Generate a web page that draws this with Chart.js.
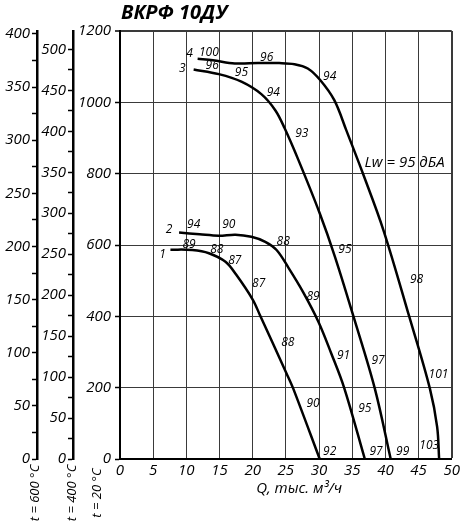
<!DOCTYPE html>
<html>
<head>
<meta charset="utf-8">
<script src="https://cdn.jsdelivr.net/npm/chart.js@4.4.1/dist/chart.umd.min.js"></script>
<style>
html, body { margin: 0; padding: 0; background: #fff; }
canvas { display: block; }
</style>
</head>
<body>
<canvas id="mycanvas" width="463" height="527"></canvas>
<script>
// Q, thousand m3/h  ->  P, Pa (t = 20 °C)
var curve1Q = [7.6, 10.9, 13.4, 15.9, 17.5, 20.0, 21.1, 25.1, 26.1, 30.1];
var curve1P = [587, 586, 577, 553, 517, 447, 403, 240, 198, 0];
var curve2Q = [8.9, 12.0, 14.9, 17.4, 19.8, 21.9, 23.6, 25.4, 27.6, 29.9, 31.8, 33.8, 36.9];
var curve2P = [635, 630, 626, 629, 623, 609, 586, 536, 468, 385, 298, 199, 0];
var curve3Q = [11.1, 14.9, 18.3, 21.3, 23.4, 24.8, 26.9, 30.1, 32.4, 35.2, 38.4, 40.8];
var curve3P = [1092, 1079, 1058, 1023, 978, 928, 838, 689, 567, 399, 198, 0];
var curve4Q = [11.7, 14.0, 17.3, 20.8, 24.0, 26.3, 28.3, 30.2, 32.3, 34.1, 36.6, 39.7, 43.6, 46.7, 47.8, 48.1];
var curve4P = [1122, 1118, 1109, 1110, 1110, 1107, 1095, 1062, 1006, 922, 801, 642, 399, 198, 90, 0];

// noise level marks along the curves and curve numbers
var markQ = [10.5, 13.4, 22.1, 31.6, 44.7, 48.0, 46.6,
             9.4, 13.9, 18.3, 23.1, 27.4, 33.9, 38.9, 42.6,
             7.4, 11.1, 16.4, 24.6, 29.1, 33.7, 36.9, 38.6,
             6.4, 10.4, 14.6, 17.3, 20.9, 25.3, 29.1, 31.6];
var markP = [1137, 1139, 1125, 1072, 502, 238, 37,
             1095, 1102, 1084, 1028, 913, 586, 277, 22,
             644, 656, 656, 610, 455, 289, 140, 22,
             574, 600, 586, 555, 492, 327, 156, 22];
var markText = ['4', '100', '96', '94', '98', '101', '103',
                '3', '96', '95', '94', '93', '95', '97', '99',
                '2', '94', '90', '88', '89', '91', '95', '97',
                '1', '89', '88', '87', '87', '88', '90', '92'];

var qTicks = [0, 5, 10, 15, 20, 25, 30, 35, 40, 45, 50];
var p20Ticks = [0, 200, 400, 600, 800, 1000, 1200];
var p400Ticks = [0, 25, 50, 75, 100, 125, 150, 175, 200, 225, 250, 275, 300, 325, 350, 375, 400, 425, 450, 475, 500];
var p600Ticks = [0, 25, 50, 75, 100, 125, 150, 175, 200, 225, 250, 275, 300, 325, 350, 375, 400];
var p400Max = 1200 * 293 / 673;
var p600Max = 1200 * 293 / 873;

var title = 'ВКРФ 10ДУ';
var xTitle = 'Q, тыс. м³/ч';
var lwText = 'Lw = 95 дБА';
var tempText = ['t = 600 °C', 't = 400 °C', 't = 20 °C'];

function pts(qs, ps) {
	var out = [];
	for (var i = 0; i < qs.length; i++) out.push({x: qs[i], y: ps[i]});
	return out;
}
function fixedTicks(values) {
	return function(scale) {
		scale.ticks = values.map(function(v) { return {value: v}; });
	};
}
function every50(v) { return v % 50 === 0 ? String(v) : ''; }
function plain(v) { return String(v); }

Chart.defaults.font.family = '"Open Sans", sans-serif';
Chart.defaults.font.style = 'italic';
Chart.defaults.font.size = 15;
Chart.defaults.color = '#000';

var textPlugin = {
	id: 'texts',
	afterDraw: function(chart) {
		var ctx = chart.ctx, x = chart.scales.x, y = chart.scales.y;
		ctx.save();
		ctx.fillStyle = '#000';
		ctx.textBaseline = 'middle';

		ctx.font = 'italic bold 20px "Open Sans"';
		ctx.textAlign = 'left';
		ctx.fillText(title, chart.chartArea.left + 1, 13);

		ctx.font = 'italic 15px "Open Sans"';
		ctx.textAlign = 'center';
		ctx.fillText(xTitle, x.getPixelForValue(27), 489);
		ctx.fillText(lwText, x.getPixelForValue(42.9), y.getPixelForValue(830));

		ctx.font = 'italic 12px "Open Sans"';
		for (var i = 0; i < markText.length; i++) {
			ctx.fillText(markText[i], x.getPixelForValue(markQ[i]), y.getPixelForValue(markP[i]));
		}

		ctx.font = 'italic 13px "Open Sans"';
		var tx = [chart.scales.y600.right - 2, chart.scales.y400.right - 1, chart.scales.y.right - 23];
		for (var j = 0; j < tempText.length; j++) {
			ctx.save();
			ctx.translate(tx[j], 493);
			ctx.rotate(-Math.PI / 2);
			ctx.fillText(tempText[j], 0, 0);
			ctx.restore();
		}
		ctx.restore();
	}
};

function curve(qs, ps) {
	return {
		data: pts(qs, ps),
		borderColor: '#000',
		borderWidth: 2.5,
		pointRadius: 0,
		fill: false,
		tension: 0.35
	};
}

var gridW = function(c) { return (c.tick && (c.tick.value === 50 || c.tick.value === 1200)) ? 2 : 1; };

var myChart = new Chart(document.getElementById('mycanvas'), {
	type: 'line',
	data: {
		datasets: [curve(curve1Q, curve1P), curve(curve2Q, curve2P), curve(curve3Q, curve3P), curve(curve4Q, curve4P)]
	},
	options: {
		responsive: false,
		animation: false,
		devicePixelRatio: 1,
		layout: {padding: {top: 31, right: 8, left: 0, bottom: 0}},
		plugins: {legend: {display: false}, tooltip: {enabled: false}},
		scales: {
			x: {
				type: 'linear', min: 0, max: 50,
				afterBuildTicks: fixedTicks(qTicks),
				afterFit: function(s) { s.height = 68; },
				ticks: {padding: 3, maxRotation: 0, callback: plain, font: {size: 15}},
				grid: {color: '#3a3a3a', lineWidth: gridW, drawTicks: false},
				border: {display: true, color: '#000', width: 2}
			},
			y: {
				type: 'linear', position: 'left', weight: 0, min: 0, max: 1200,
				afterBuildTicks: fixedTicks(p20Ticks),
				afterFit: function(s) { s.width = 47; },
				ticks: {padding: 4, callback: plain, font: {size: 15}},
				grid: {color: '#3a3a3a', lineWidth: gridW, tickLength: 5, tickColor: '#000', tickWidth: 1.5},
				border: {display: true, color: '#000', width: 2}
			},
			y400: {
				type: 'linear', position: 'left', weight: 1, min: 0, max: p400Max,
				afterBuildTicks: fixedTicks(p400Ticks),
				afterFit: function(s) { s.width = 36; },
				ticks: {padding: 2, autoSkip: false, callback: every50, font: {size: 15}},
				grid: {drawOnChartArea: false, tickLength: 5, tickColor: '#000', tickWidth: 1.5},
				border: {display: true, color: '#000', width: 2.5}
			},
			y600: {
				type: 'linear', position: 'left', weight: 2, min: 0, max: p600Max,
				afterBuildTicks: fixedTicks(p600Ticks),
				afterFit: function(s) { s.width = 37; },
				ticks: {padding: 2, autoSkip: false, callback: every50, font: {size: 15}},
				grid: {drawOnChartArea: false, tickLength: 5, tickColor: '#000', tickWidth: 1.5},
				border: {display: true, color: '#000', width: 2.5}
			}
		}
	},
	plugins: [textPlugin]
});
</script>
</body>
</html>
